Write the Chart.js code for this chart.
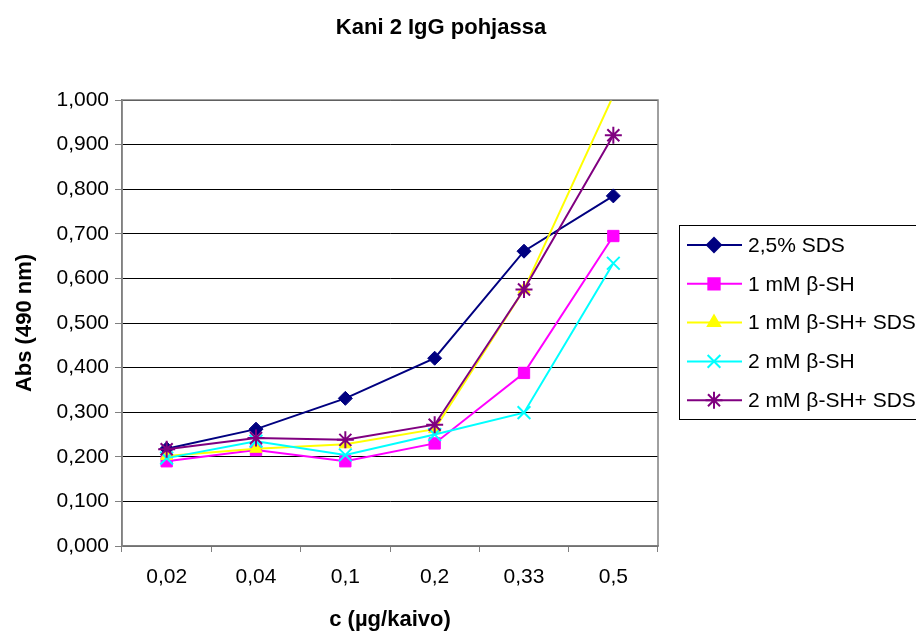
<!DOCTYPE html>
<html>
<head>
<meta charset="utf-8">
<script src="https://cdn.jsdelivr.net/npm/chart.js@4/dist/chart.umd.min.js"></script>
<style>
  html, body { margin: 0; padding: 0; background: #fff; }
  #wrap { width: 916px; height: 633px; }
</style>
</head>
<body>
<div id="wrap"><canvas id="kuvaaja" width="916" height="633"></canvas></div>
<script>
const pitoisuudet = ["0,02", "0,04", "0,1", "0,2", "0,33", "0,5"];

const sds25 = [0.218, 0.262, 0.331, 0.421, 0.661, 0.785];
const bsh1 = [0.190, 0.215, 0.190, 0.230, 0.388, 0.695];
const bsh1Sds = [0.202, 0.218, 0.228, 0.262, 0.575, 1.01];
const bsh2 = [0.197, 0.235, 0.204, 0.250, 0.299, 0.634];
const bsh2Sds = [0.217, 0.242, 0.238, 0.272, 0.575, 0.921];

const sarjat = ["2,5% SDS", "1 mM β-SH", "1 mM β-SH+ SDS", "2 mM β-SH", "2 mM β-SH+ SDS"];
const yTicks = [0, 0.1, 0.2, 0.3, 0.4, 0.5, 0.6, 0.7, 0.8, 0.9, 1.0];
const otsikko = "Kani 2 IgG pohjassa";

const fontti = "'Liberation Sans', Arial, sans-serif";

function sarja(nimi, arvot, vari, merkki, koko, jarj) {
  return {
    label: nimi,
    data: arvot,
    borderColor: vari,
    backgroundColor: vari,
    borderWidth: 2,
    pointStyle: merkki,
    pointRadius: koko,
    pointBorderWidth: merkki === "star" || merkki === "crossRot" ? 2 : 1,
    pointBorderColor: vari,
    pointBackgroundColor: vari,
    tension: 0,
    clip: 0,
    order: jarj
  };
}

// otsikko ja selite piirretään itse: selitteessä viiva + merkki
const selite = {
  id: "selite",
  afterDraw(chart) {
    const ctx = chart.ctx;
    ctx.save();
    ctx.fillStyle = "#000";
    ctx.textAlign = "center";
    ctx.textBaseline = "middle";
    ctx.font = "bold 22px " + fontti;
    ctx.fillText(otsikko, 441, 28);

    const x0 = 679, y0 = 225, h = 194;
    ctx.strokeStyle = "#000";
    ctx.lineWidth = 1;
    ctx.strokeRect(x0 + 0.5, y0 + 0.5, 260, h);
    ctx.font = "21px " + fontti;
    ctx.textAlign = "left";
    chart.data.datasets.forEach((ds, i) => {
      const y = 245 + i * 38.8;
      ctx.strokeStyle = ds.borderColor;
      ctx.fillStyle = ds.borderColor;
      ctx.lineWidth = 2;
      ctx.beginPath();
      ctx.moveTo(687, y);
      ctx.lineTo(742, y);
      ctx.stroke();
      Chart.helpers.drawPoint(ctx, {
        pointStyle: ds.pointStyle,
        radius: ds.pointRadius,
        rotation: 0,
        borderWidth: ds.pointBorderWidth
      }, 714, y);
      ctx.fillStyle = "#000";
      ctx.fillText(ds.label, 748, y + 1);
    });
    ctx.restore();
  }
};

// piirtoalueen harmaa kehys
const kehys = {
  id: "kehys",
  afterDatasetsDraw(chart) {
    const a = chart.chartArea;
    const ctx = chart.ctx;
    ctx.save();
    ctx.strokeStyle = "#808080";
    ctx.lineWidth = 1.5;
    ctx.strokeRect(a.left, a.top, a.right - a.left, a.bottom - a.top);
    ctx.restore();
  }
};

new Chart(document.getElementById("kuvaaja"), {
  type: "line",
  data: {
    labels: pitoisuudet,
    datasets: [
      sarja(sarjat[0], sds25, "#000080", "rectRot", 7, 4),
      sarja(sarjat[1], bsh1, "#FF00FF", "rect", 8, 3),
      sarja(sarjat[2], bsh1Sds, "#FFFF00", "triangle", 7, 2),
      sarja(sarjat[3], bsh2, "#00FFFF", "crossRot", 9, 1),
      sarja(sarjat[4], bsh2Sds, "#800080", "star", 8.5, 0)
    ]
  },
  options: {
    responsive: false,
    animation: false,
    layout: { padding: { left: 0, right: 258, top: 100, bottom: 0 } },
    plugins: {
      legend: { display: false },
      tooltip: { enabled: false },
      title: { display: false }
    },
    scales: {
      x: {
        offset: true,
        afterFit: s => { s.height = 87; },
        grid: {
          offset: true,
          drawOnChartArea: false,
          drawTicks: true,
          tickLength: 6,
          color: "#808080"
        },
        border: { color: "#808080", width: 1.5 },
        ticks: {
          color: "#000",
          padding: 13,
          font: { family: fontti, size: 21 }
        },
        title: {
          display: true,
          text: "c (µg/kaivo)",
          color: "#000",
          font: { family: fontti, size: 22, weight: "bold" },
          padding: { top: 14, bottom: 0 }
        }
      },
      y: {
        min: 0,
        max: 1,
        afterFit: s => { s.width = 122; },
        afterBuildTicks: s => { s.ticks = yTicks.map(v => ({ value: v })); },
        grid: {
          color: "#000",
          lineWidth: 1,
          drawTicks: true,
          tickLength: 7,
          tickColor: "#808080"
        },
        border: { color: "#808080", width: 1.5 },
        ticks: {
          color: "#000",
          padding: 6,
          font: { family: fontti, size: 21 },
          callback: v => v.toFixed(3).replace(".", ",")
        },
        title: {
          display: true,
          text: "Abs (490 nm)",
          color: "#000",
          font: { family: fontti, size: 22, weight: "bold" },
          padding: { top: 12, bottom: 0 }
        }
      }
    }
  },
  plugins: [kehys, selite]
});
</script>
</body>
</html>
